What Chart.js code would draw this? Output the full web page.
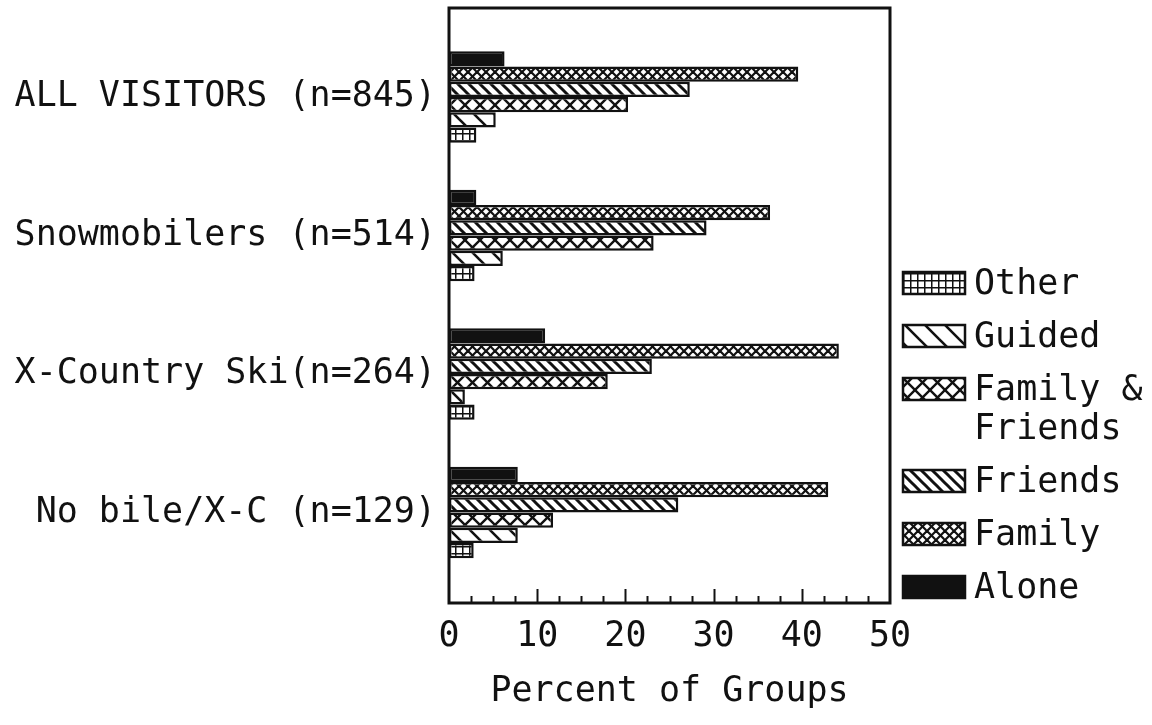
<!DOCTYPE html>
<html>
<head>
<meta charset="utf-8">
<script src="https://cdn.jsdelivr.net/npm/chart.js@4/dist/chart.umd.min.js"></script>
<style>
html,body{margin:0;padding:0;background:#fff;}
#wrap{width:1152px;height:725px;position:relative;}
</style>
</head>
<body>
<div id="wrap"><canvas id="c" width="1152" height="725"></canvas></div>
<script>
const categories = ['ALL VISITORS (n=845)', 'Snowmobilers (n=514)', 'X-Country Ski(n=264)', 'No bile/X-C (n=129)'];
const alone      = [6.3, 3.1, 10.9, 7.8];
const family     = [39.6, 36.4, 44.2, 43.0];
const friends    = [27.3, 29.2, 23.0, 26.0];
const famFriends = [20.3, 23.2, 18.0, 11.8];
const guided     = [5.3, 6.1, 1.8, 7.8];
const other      = [3.1, 2.9, 2.9, 2.8];
const seriesNames = ['Alone', 'Family', 'Friends', 'Family &\nFriends', 'Guided', 'Other'];
const xTicks = [0, 10, 20, 30, 40, 50];

const FONT = '"DejaVu Sans Mono", "Liberation Mono", monospace';
const INK = '#111';

function makePattern(kind) {
  const c = document.createElement('canvas');
  const g = c.getContext('2d');
  let s;
  if (kind === 'solid') {
    s = 4; c.width = s; c.height = s; g.fillStyle = INK; g.fillRect(0, 0, s, s);
    return g.createPattern(c, 'repeat');
  }
  if (kind === 'dense') s = 9;
  else if (kind === 'sparse') s = 15;
  else if (kind === 'diagDense') s = 11;
  else if (kind === 'diagSparse') s = 20;
  else s = 7;
  c.width = s; c.height = s;
  g.fillStyle = '#fff'; g.fillRect(0, 0, s, s);
  g.strokeStyle = INK;
  g.lineCap = 'square';
  if (kind === 'dense' || kind === 'sparse') {
    g.lineWidth = kind === 'dense' ? 2.2 : 2.4;
    for (let d = -s; d <= s; d += s) {
      g.beginPath(); g.moveTo(d, 0); g.lineTo(d + s, s); g.stroke();
      g.beginPath(); g.moveTo(d, s); g.lineTo(d + s, 0); g.stroke();
    }
  } else if (kind === 'diagDense' || kind === 'diagSparse') {
    g.lineWidth = kind === 'diagDense' ? 3 : 2.6;
    for (let d = -s; d <= s; d += s) {
      g.beginPath(); g.moveTo(d, 0); g.lineTo(d + s, s); g.stroke();
    }
  } else {
    g.lineWidth = 2;
    g.beginPath(); g.moveTo(0, 0.5); g.lineTo(s, 0.5); g.stroke();
    g.beginPath(); g.moveTo(0.5, 0); g.lineTo(0.5, s); g.stroke();
  }
  return g.createPattern(c, 'repeat');
}

const fills = [
  makePattern('solid'),
  makePattern('dense'),
  makePattern('diagDense'),
  makePattern('sparse'),
  makePattern('diagSparse'),
  makePattern('grid')
];
const seriesValues = [alone, family, friends, famFriends, guided, other];

const datasets = seriesValues.map((vals, si) => ({
  label: seriesNames[si],
  data: vals.map((v, i) => ({ x: v, y: i })),
  backgroundColor: fills[si],
  borderColor: INK,
  borderWidth: 2.5,
  borderSkipped: false,
  categoryPercentage: 0.66,
  barPercentage: 1.0
}));

const framePlugin = {
  id: 'frame',
  afterDraw(chart) {
    const { ctx, chartArea: a } = chart;
    const xs = chart.scales.x;
    ctx.save();
    ctx.strokeStyle = INK;
    ctx.lineWidth = 2;
    for (let v = 2.5; v < 50; v += 2.5) {
      const px = Math.round(xs.getPixelForValue(v)) + 0.5;
      const len = (v % 10 === 0) ? 14 : 7;
      ctx.beginPath(); ctx.moveTo(px, a.bottom); ctx.lineTo(px, a.bottom - len); ctx.stroke();
    }
    ctx.lineWidth = 3;
    ctx.strokeRect(a.left, a.top, a.right - a.left, a.bottom - a.top);
    ctx.restore();
  }
};

const legendPlugin = {
  id: 'customLegend',
  afterDraw(chart) {
    const ctx = chart.ctx;
    const ds = chart.data.datasets;
    const x0 = 903, w = 62, h = 22;
    let y = 283;
    ctx.save();
    ctx.font = '35px ' + FONT;
    ctx.textBaseline = 'middle';
    for (let i = ds.length - 1; i >= 0; i--) {
      const d = ds[i];
      ctx.fillStyle = d.backgroundColor;
      ctx.fillRect(x0, y - h / 2, w, h);
      ctx.strokeStyle = INK;
      ctx.lineWidth = 2.5;
      ctx.strokeRect(x0, y - h / 2, w, h);
      ctx.fillStyle = INK;
      const lines = d.label.split('\n');
      lines.forEach((t, k) => ctx.fillText(t, 974, y + 2 + k * 39));
      y += 53 + (lines.length - 1) * 39;
    }
    ctx.restore();
  }
};

new Chart(document.getElementById('c'), {
  type: 'bar',
  data: { datasets },
  options: {
    indexAxis: 'y',
    responsive: false,
    animation: false,
    devicePixelRatio: 1,
    layout: { padding: { left: 0, right: 262, top: 8, bottom: 0 } },
    plugins: { legend: { display: false }, tooltip: { enabled: false } },
    scales: {
      x: {
        type: 'linear',
        min: 0, max: 50,
        afterBuildTicks: (s) => { s.ticks = xTicks.map(v => ({ value: v })); },
        afterFit: (s) => { s.height = 122; },
        grid: { display: false, drawTicks: false },
        border: { display: false },
        ticks: { color: INK, font: { family: FONT, size: 35 }, padding: 13, maxRotation: 0 },
        title: { display: true, text: 'Percent of Groups', color: INK, font: { family: FONT, size: 35 }, padding: { top: 0, bottom: 12 } }
      },
      y: {
        type: 'linear',
        reverse: true,
        offset: false,
        min: -0.643, max: 3.653,
        afterBuildTicks: (s) => { s.ticks = categories.map((c, i) => ({ value: i })); },
        afterFit: (s) => { s.width = 449; s.paddingTop = 0; s.paddingBottom = 0; },
        grid: { display: false, drawTicks: false, offset: false },
        border: { display: false },
        ticks: { color: INK, font: { family: FONT, size: 35 }, padding: 13, autoSkip: false,
                 callback: (v) => categories[v] }
      }
    }
  },
  plugins: [framePlugin, legendPlugin]
});
</script>
</body>
</html>
